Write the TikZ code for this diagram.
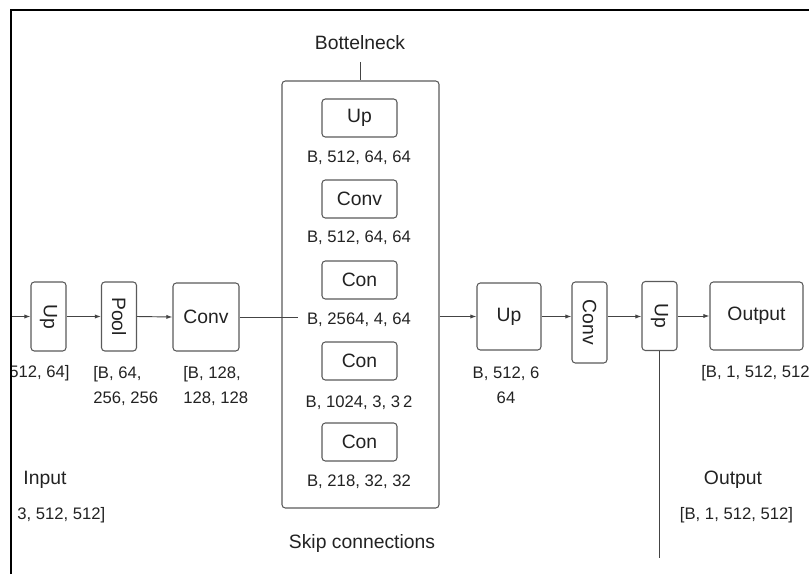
\documentclass[tikz,border=0pt]{standalone}
\usepackage{fontspec}
\setmainfont{Liberation Sans}
\usetikzlibrary{arrows.meta,calc,positioning}
\definecolor{ink}{HTML}{222222}
\definecolor{edge}{HTML}{5A5A5A}
\definecolor{wire}{HTML}{444444}

\begin{document}
\begin{tikzpicture}[x=.75pt,y=.75pt,
  font=\fontsize{12.5}{18.6}\selectfont, text=ink,
  block/.style={draw=edge,line width=.8pt,rounded corners=2.5pt,fill=white,
                inner sep=0pt,font=\fontsize{14.5}{16}\selectfont},
  tallblock/.style={block,minimum width=26.25pt,minimum height=51.75pt},
  innerblock/.style={block,minimum width=56.25pt,minimum height=28.5pt},
  flow/.style={-{Latex[length=1.6mm,width=1.1mm]},draw=wire,line width=.7pt},
  plain/.style={draw=wire,line width=.7pt},
  dims/.style={align=left,inner sep=0pt},
  title/.style={font=\fontsize{14.5}{16}\selectfont,inner sep=0pt}
]
% picture is 809 x 574 px, y runs downward in negative values
\path[use as bounding box] (0,0) rectangle (809,-574);
\begin{scope}
\clip (11,-10) rectangle (809,-574);

% encoder
\node[tallblock] (up1) at (48.5,-316.5) {\rotatebox{-90}{Up}};
\node[tallblock] (pool) at (119,-316.5) {\rotatebox{-90}{Pool}};
\node[block,minimum width=49.5pt,minimum height=51pt] (conv1) at (206,-317) {Conv};
\coordinate (feed) at (2,-316.5);
\draw[flow] (feed) -- (up1.west);
\draw[flow] (up1.east) -- (pool.west);
\draw[flow] (pool.east) -- (conv1.west);

\node[dims,anchor=west] (s1) at (9,-373) {512, 64]};
\node[dims,anchor=north west] (s2) at (93,-366) {[B, 64,\\256, 256};
\node[dims,anchor=north west] (s3) at (183,-366) {[B, 128,\\128, 128};
\node[title] (inlab) at (45,-480) {Input};
\node[dims,anchor=west] (insize) at (17,-515) {3, 512, 512]};

% bottleneck with skip connections
\node[draw=edge,line width=.8pt,rounded corners=2.5pt,minimum width=117.75pt,
      minimum height=320.25pt] (neck) at (360.5,-294.5) {};
\node[title] (necklab) at (360,-43) {Bottelneck};
\draw[plain] (necklab.south |- 0,-62) -- (necklab.south |- neck.north);
\node[innerblock] (bup) at (359.5,-118) {Up};
\node[innerblock] (bconv) at (359.5,-199) {Conv};
\node[innerblock] (bcon1) at (359.5,-280) {Con};
\node[innerblock] (bcon2) at (359.5,-361) {Con};
\node[innerblock] (bcon3) at (359.5,-442) {Con};
\node[dims] (b1) at (359,-158) {B, 512, 64, 64};
\node[dims] (b2) at (359,-238) {B, 512, 64, 64};
\node[dims] (b3) at (359,-320) {B, 2564, 4, 64};
\node[dims] (b4) at (359,-403) {B, 1024, 3, 3\,2};
\node[dims] (b5) at (359,-482) {B, 218, 32, 32};
\node[title] (skiplab) at (362,-543) {Skip connections};
\coordinate (skipin) at (298,-317);
\draw[plain] (conv1.east) -- (skipin);

% decoder
\node[block,minimum width=48pt,minimum height=50.25pt] (up2) at (509,-316.5) {Up};
\node[block,minimum width=26.25pt,minimum height=60.75pt] (conv2) at (589.5,-322.5) {\rotatebox{-90}{Conv}};
\node[tallblock] (up3) at (659.5,-316) {\rotatebox{-90}{Up}};
\node[block,minimum width=69.75pt,minimum height=51pt] (out) at (756.5,-316) {Output};
\draw[flow] (neck.east |- up2.west) -- (up2.west);
\draw[flow] (up2.east) -- (up2.east -| conv2.west);
\draw[flow] (up2.east -| conv2.east) -- (up2.east -| up3.west);
\draw[flow] (up3.east) -- (out.west);
\coordinate (drop) at (659.5,-558);
\draw[plain] (up3.south) -- (drop);

\node[dims,align=center] (s4) at (506,-385.5) {B, 512, 6\\64};
\node[dims,anchor=west] (s5) at (701,-373) {[B, 1, 512, 512};
\node[title] (outlab) at (733,-480) {Output};
\node[dims] (outsize) at (736.5,-515) {[B, 1, 512, 512]};
\end{scope}

\draw[black,line width=2.2pt] (11,-574) -- (11,-10) -- (809,-10);
\end{tikzpicture}
\end{document}
